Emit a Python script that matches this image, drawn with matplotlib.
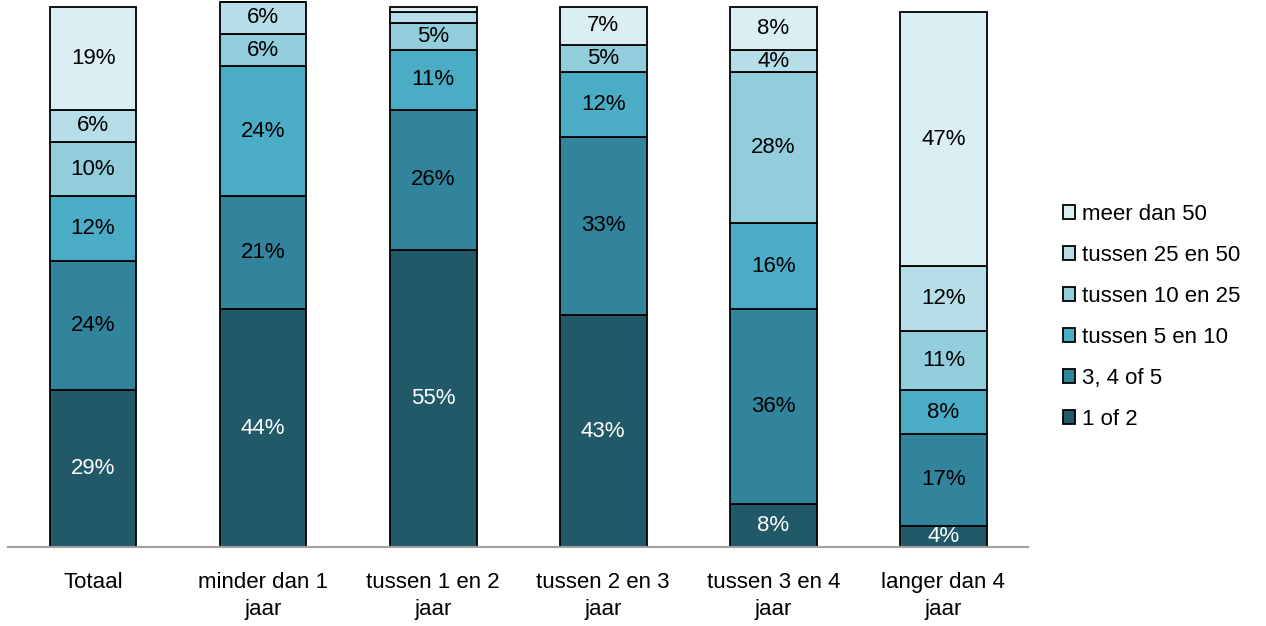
import numpy as np
import matplotlib
matplotlib.use("Agg")
import matplotlib.pyplot as plt

plt.rcParams['font.family'] = ['Liberation Sans', 'DejaVu Sans']

groups = ['Totaal', 'minder dan 1\njaar', 'tussen 1 en 2\njaar',
          'tussen 2 en 3\njaar', 'tussen 3 en 4\njaar', 'langer dan 4\njaar']
series = ['1 of 2', '3, 4 of 5', 'tussen 5 en 10', 'tussen 10 en 25',
          'tussen 25 en 50', 'meer dan 50']

een_of_twee = [29, 44, 55, 43, 8, 4]
drie_vier_vijf = [24, 21, 26, 33, 36, 17]
vijf_tien = [12, 24, 11, 12, 16, 8]
tien_25 = [10, 6, 5, 5, 28, 11]
van_25_50 = [6, 6, 2, 0, 4, 12]
meer_50 = [19, 0, 1, 7, 8, 47]

values = [een_of_twee, drie_vier_vijf, vijf_tien, tien_25, van_25_50, meer_50]
colors = ['#215968', '#31849b', '#4bacc6', '#92cddc', '#b7dee8', '#daeef3']
txtcol = ['white', 'black', 'black', 'black', 'black', 'black']

fig = plt.figure(figsize=(12.66, 6.26), dpi=100)
ax = fig.add_axes([0.0063, 0.126, 0.806, 0.8714])

x = np.arange(len(groups))
bottom = np.zeros(len(groups))
handles = []
for vals, c, tc, name in zip(values, colors, txtcol, series):
    vals = np.array(vals, dtype=float)
    b = ax.bar(x, vals, 0.51, bottom=bottom, color=c, edgecolor='black',
               linewidth=1.3, label=name, clip_on=False)
    handles.append(b)
    for xi, v, bt in zip(x, vals, bottom):
        if v >= 3:
            ax.text(xi, bt + v / 2, '%d%%' % v, ha='center', va='center',
                    fontsize=16, color=tc)
    bottom += vals

ax.set_xlim(-0.5, 5.5)
ax.set_ylim(0, 101)
ax.set_xticks(x)
ax.set_xticklabels(groups, fontsize=16, linespacing=1.38)
ax.tick_params(axis='x', length=0, pad=18)
ax.set_yticks([])
for s in ['top', 'right', 'left']:
    ax.spines[s].set_visible(False)
ax.spines['bottom'].set_color('#a0a0a0')
ax.spines['bottom'].set_linewidth(1.5)

leg = fig.legend(handles[::-1], series[::-1], loc='center left',
                 bbox_to_anchor=(0.824, 0.494), frameon=False, fontsize=16,
                 handlelength=0.55, handleheight=0.55, handletextpad=0.3,
                 labelspacing=0.9)

plt.savefig('out.png', dpi=100)
